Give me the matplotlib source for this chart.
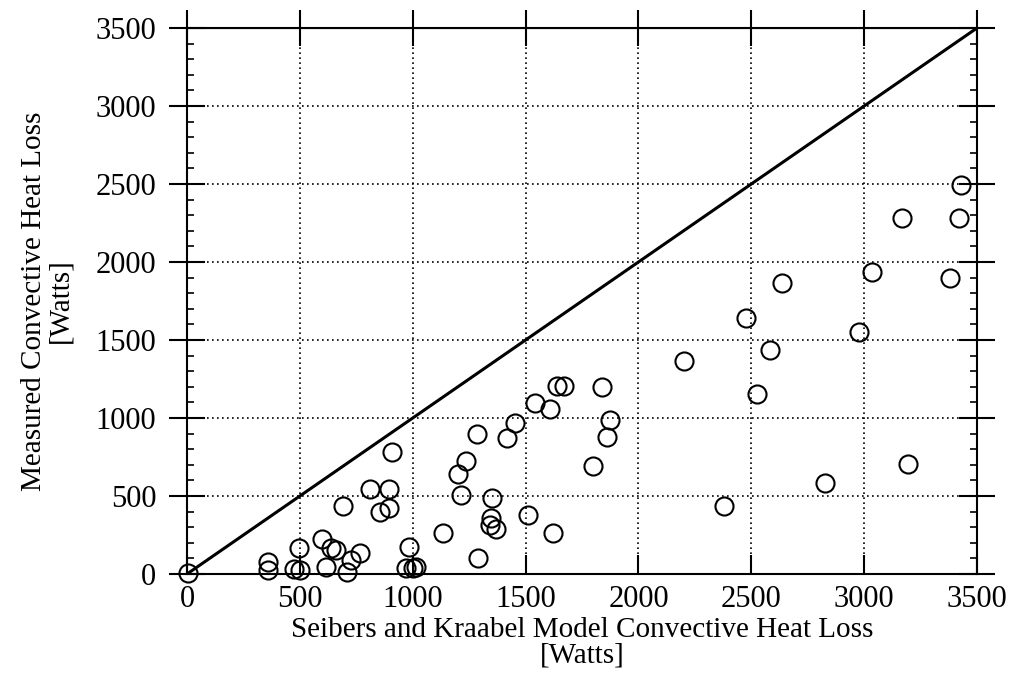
import numpy as np
import matplotlib.pyplot as plt
from matplotlib.ticker import MultipleLocator

# model (x) vs measured (y) convective heat loss, watts
model_w = [5, 360, 360, 475, 500, 495, 596, 640, 660, 618, 707, 725, 765,
           690, 810, 895, 855, 895, 910, 984, 972, 1001, 1016,
           1132, 1289, 1215, 1201, 1235, 1285, 1351, 1348, 1341, 1367,
           1419, 1455, 1510, 1543, 1606, 1639, 1668, 1621,
           1839, 1875, 1862, 1798, 2201, 2381,
           3428, 3167, 3418, 3034, 2636, 3380, 2477, 2978, 2583, 2524,
           3192, 2828]
measured_w = [5, 80, 25, 30, 25, 165, 225, 165, 155, 47, 15, 90, 133,
              438, 546, 546, 395, 423, 785, 176, 37, 40, 47,
              260, 101, 505, 638, 724, 900, 488, 359, 316, 290,
              874, 971, 380, 1095, 1057, 1203, 1203, 262,
              1196, 988, 881, 691, 1368, 434,
              2495, 2285, 2281, 1933, 1868, 1899, 1641, 1551, 1439, 1153,
              707, 584]
ticks = [0, 500, 1000, 1500, 2000, 2500, 3000, 3500]

plt.rcParams['font.family'] = ['Liberation Serif', 'DejaVu Serif']
plt.rcParams['font.size'] = 22

fig = plt.figure(figsize=(10.13, 6.91), dpi=100)
ax = fig.add_axes([0.1846, 0.1693, 0.7799, 0.7902])

ax.plot([0, 3500], [0, 3500], color='black', lw=2.2, zorder=2)
ax.plot(model_w, measured_w, 'o', ms=13, mfc='none', mec='black', mew=1.5,
        clip_on=False, zorder=3)

ax.set_xlim(0, 3500)
ax.set_ylim(0, 3500)
ax.set_xticks(ticks)
ax.set_yticks(ticks)
ax.yaxis.set_minor_locator(MultipleLocator(100))
ax.grid(True, which='major', color='black', linestyle=(0, (1, 2)), lw=1.2)

for s in ax.spines.values():
    s.set_linewidth(1.5)

ax.tick_params(axis='x', which='major', direction='in', length=14, width=1.5,
               pad=8, top=False)
ax.tick_params(axis='y', which='major', direction='inout', length=26,
               width=1.5, pad=9, left=True, right=True)
ax.tick_params(axis='y', which='minor', direction='in', length=5, width=1.2,
               left=True, right=True)

top = ax.secondary_xaxis('top')
top.set_xticks(ticks)
top.tick_params(direction='inout', length=26, width=1.5, labeltop=False)

ax.set_xlabel('Seibers and Kraabel Model Convective Heat Loss\n[Watts]',
              fontsize=21, labelpad=2, linespacing=1.0)
ax.set_ylabel('Measured Convective Heat Loss\n[Watts]', fontsize=21,
              labelpad=16, linespacing=1.0)

fig.savefig('out.png', dpi=100)
